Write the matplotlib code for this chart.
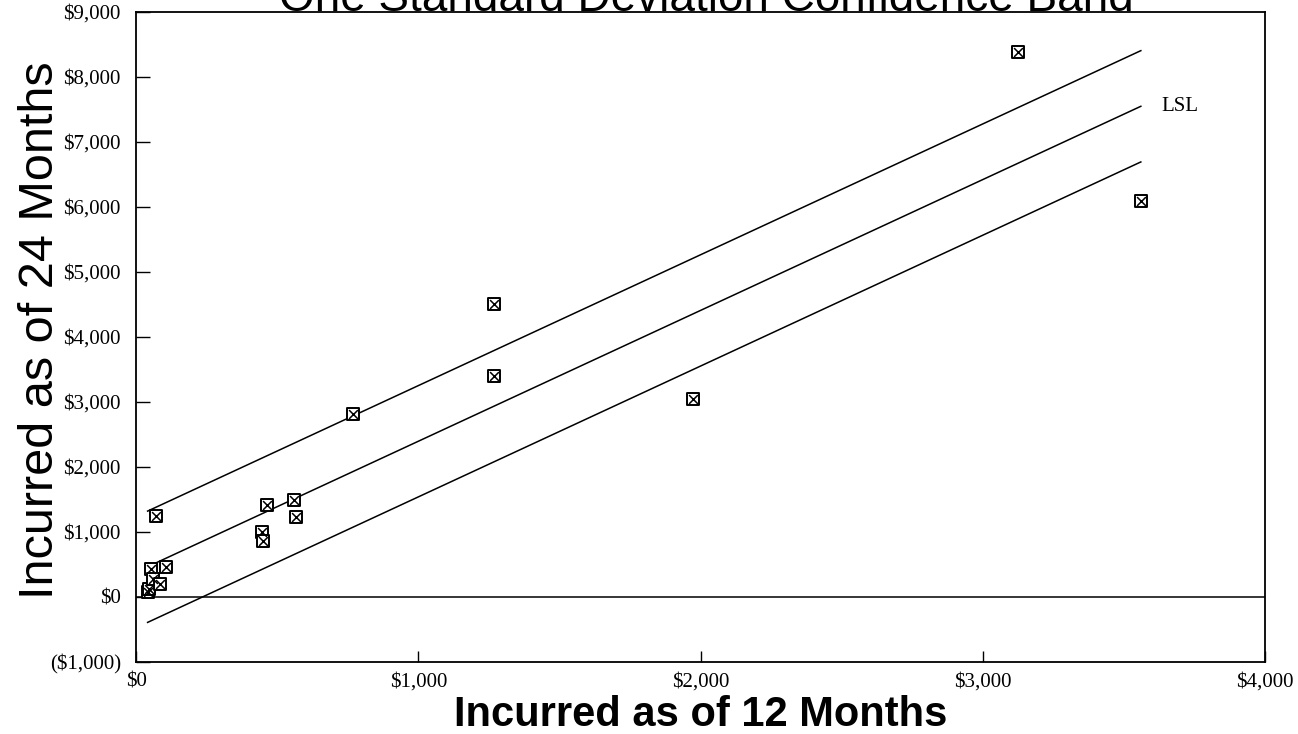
import numpy as np
import matplotlib
matplotlib.use("Agg")
import matplotlib.pyplot as plt
from matplotlib.ticker import FuncFormatter

# incurred losses at 12 and 24 months ($)
incurred_12 = [41, 46, 53, 60, 70, 85, 105, 447, 450, 463, 560, 567, 770, 1270, 1270, 1975, 3125, 3560]
incurred_24 = [75, 115, 420, 270, 1245, 190, 450, 990, 860, 1410, 1490, 1220, 2810, 4500, 3400, 3040, 8380, 6090]

# least squares line and one standard deviation band
lsl_intercept = 378
lsl_slope = 2.013
band_sd = 856

x = np.array(incurred_12)
y = np.array(incurred_24)


def dollars(v, pos):
    if v < 0:
        return "(${:,.0f})".format(-v)
    return "${:,.0f}".format(v)


fig = plt.figure(figsize=(12.98, 7.34), dpi=100)
ax = fig.add_axes([0.1048, 0.0985, 0.8698, 0.8856])

xs = np.array([x.min(), x.max()])
fit = lsl_intercept + lsl_slope * xs
for off in (band_sd, 0, -band_sd):
    ax.plot(xs, fit + off, color="black", lw=1.1)

ax.axhline(0, color="black", lw=1.1)

# boxed-x markers
ax.scatter(x, y, marker="s", s=80, facecolors="white", edgecolors="black", linewidths=1.4, zorder=3)
ax.scatter(x, y, marker="x", s=40, color="black", linewidths=1.1, zorder=4)

ax.annotate("LSL", (xs[-1], fit[-1]), xytext=(15, 0), textcoords="offset points",
            ha="left", va="center", fontsize=15, family="Liberation Serif")

ax.set_xlim(0, 4000)
ax.set_ylim(-1000, 9000)
ax.set_xticks([0, 1000, 2000, 3000, 4000])
ax.set_yticks(range(-1000, 9001, 1000))
ax.xaxis.set_major_formatter(FuncFormatter(dollars))
ax.yaxis.set_major_formatter(FuncFormatter(dollars))
ax.tick_params(axis="x", direction="in", length=8, width=1, pad=8)
ax.tick_params(axis="y", direction="in", length=10, width=1, pad=11)
for lab in ax.get_xticklabels() + ax.get_yticklabels():
    lab.set_family("Liberation Serif")
    lab.set_fontsize(15)
for sp in ax.spines.values():
    sp.set_linewidth(1.3)

ax.set_xlabel("Incurred as of 12 Months", fontsize=30, fontweight="bold",
              family="Liberation Sans", labelpad=2)
fig.text(0.031, 0.55, "Incurred as of 24 Months", rotation=90, ha="center", va="center",
         fontsize=35, family="Liberation Sans")
fig.text(0.544, 1 - 11 / 734, "One Standard Deviation Confidence Band", ha="center",
         va="baseline", fontsize=33, family="Liberation Sans")

fig.savefig("out.png", dpi=100)
